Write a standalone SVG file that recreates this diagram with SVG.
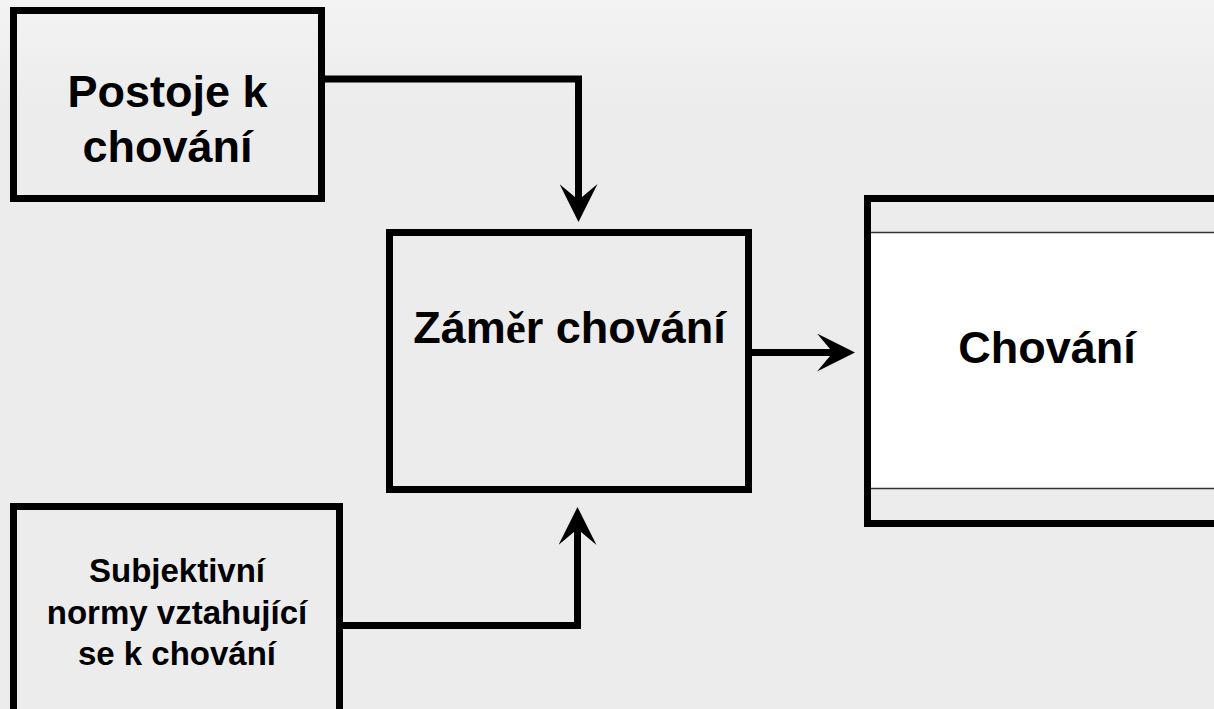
<svg xmlns="http://www.w3.org/2000/svg" width="1214" height="709" viewBox="0 0 1214 709">
<defs>
<linearGradient id="bg" x1="0" y1="0" x2="0" y2="1">
<stop offset="0" stop-color="#f3f3f3"/>
<stop offset="0.15" stop-color="#ececec"/>
<stop offset="1" stop-color="#ececec"/>
</linearGradient>
<marker id="arr" markerUnits="userSpaceOnUse" viewBox="0 0 38 38" markerWidth="38" markerHeight="38" refX="20" refY="19" orient="auto">
<path d="M38,19 L0,0 L16,19 L0,38 Z" fill="#000"/>
</marker>
<style>
.box{fill:none;stroke:#000;stroke-width:7}
.lbl{font-family:"Liberation Sans",Arial,sans-serif;font-weight:bold;fill:#000;text-anchor:middle}
.big{font-size:45px}
.small{font-size:33px}
.conn{fill:none;stroke:#000;stroke-width:7;stroke-linejoin:miter}
.thin{stroke:#333;stroke-width:1.5}
</style>
</defs>
<rect width="1214" height="709" fill="url(#bg)"/>

<g id="connectors">
<path class="conn" d="M321.5,79 H578.5 V204" marker-end="url(#arr)"/>
<path class="conn" d="M748.5,352.5 H837" marker-end="url(#arr)"/>
<path class="conn" d="M339.5,625.5 H577.5 V525" marker-end="url(#arr)"/>
</g>

<g id="postoje">
<rect class="box" x="13.5" y="10.5" width="308" height="188"/>
<text class="lbl big" x="167.5" y="107">Postoje k</text>
<text class="lbl big" x="167.5" y="162">chování</text>
</g>

<g id="zamer">
<rect class="box" x="389.5" y="232.5" width="359" height="257"/>
<text class="lbl big" x="569.5" y="343">Zám<tspan font-family="'Liberation Serif',serif">ě</tspan>r chování</text>
</g>

<g id="chovani">
<rect x="871" y="232.5" width="350" height="256" fill="#fff"/>
<line class="thin" x1="871" y1="232.5" x2="1214" y2="232.5"/>
<line class="thin" x1="871" y1="488.5" x2="1214" y2="488.5"/>
<rect class="box" x="867.5" y="198.5" width="360" height="325"/>
<text class="lbl big" x="1047" y="363">Chování</text>
</g>

<g id="normy">
<rect class="box" x="13.5" y="506.5" width="326" height="220"/>
<text class="lbl small" x="177" y="582">Subjektivní</text>
<text class="lbl small" x="177" y="624">normy vztahující</text>
<text class="lbl small" x="177" y="665">se k chování</text>
</g>
</svg>
